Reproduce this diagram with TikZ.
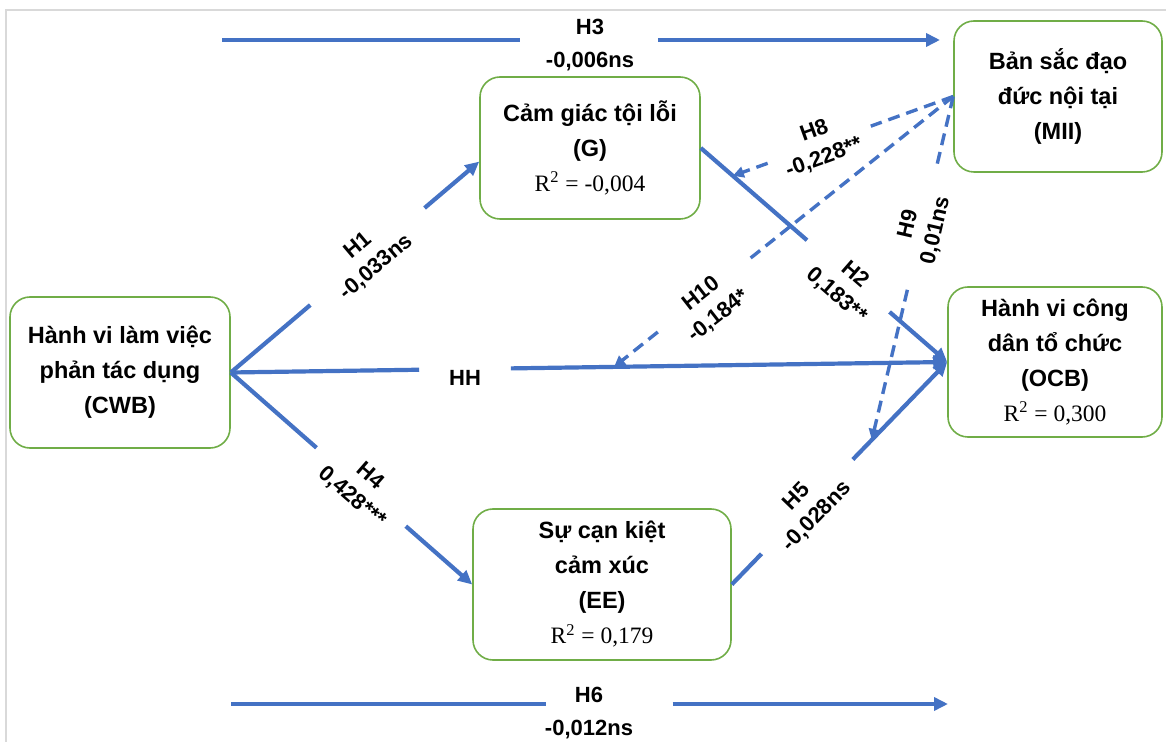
\documentclass[tikz,border=0pt]{standalone}
\usepackage{fontspec}
\setmainfont{Liberation Sans}
\newfontfamily\timesfont{Liberation Serif}
\usepackage{tikz}
\usetikzlibrary{arrows.meta,calc,positioning}
\definecolor{pathblue}{HTML}{4472C4}
\definecolor{boxgreen}{HTML}{70AD47}
\definecolor{framegray}{HTML}{D9D9D9}
\tikzset{%
	construct/.style = {draw=boxgreen, line width=0.8pt, rounded corners=10pt, align=center, inner sep=0pt, font=\bfseries\fontsize{11.75}{17.5}\selectfont},
	link/.style      = {pathblue, line width=2.1pt},
	linkarrow/.style = {link, -{Triangle[length=7pt,width=6.5pt]}},
	moderline/.style = {pathblue, line width=1.7pt, dash pattern=on 6pt off 3.5pt},
	moderarrow/.style= {moderline, -{Triangle[length=5.5pt,width=5.5pt]}},
	coef/.style      = {align=center, inner sep=0pt, font=\bfseries\fontsize{11}{14}\selectfont},
	coefwide/.style  = {coef, font=\bfseries\fontsize{11}{16.5}\selectfont},
}
\newcommand{\rsq}[1]{{\timesfont\mdseries R\textsuperscript{2} = #1}}

\begin{document}
\begin{tikzpicture}[x=0.5pt,y=-0.5pt]
	\useasboundingbox (0,0) rectangle (1166,742);
	\draw[framegray, line width=0.6pt] (6,742) -- (6,10) -- (1166,10);

	% constructs
	\node[construct, minimum width=110pt, minimum height=75.5pt] (CWB) at (120,372.5) {Hành vi làm việc\\phản tác dụng\\(CWB)};
	\node[construct, minimum width=110pt, minimum height=71pt] (G) at (590,148) {Cảm giác tội lỗi\\(G)\\\rsq{-0,004}};
	\node[construct, minimum width=104pt, minimum height=75.5pt] (MII) at (1058,96.5) {Bản sắc đạo\\đức nội tại\\(MII)};
	\node[construct, minimum width=107pt, minimum height=75pt] (OCB) at (1055,362) {Hành vi công\\dân tổ chức\\(OCB)\\\rsq{0,300}};
	\node[construct, minimum width=129pt, minimum height=75.5pt] (EE) at (602,584.5) {Sự cạn kiệt\\cảm xúc\\(EE)\\\rsq{0,179}};

	% direct paths
	\draw[link] (CWB.east) -- ($(CWB.east)!.32!(G.187)$);
	\draw[linkarrow] ($(CWB.east)!.78!(G.187)$) -- (G.187);
	\node[coef, rotate=40] (h1) at ($(CWB.east)!.55!(G.187)$) {H1\\-0,033ns};

	\draw[link] (CWB.east) -- ($(CWB.east)!.355!(EE.west)$);
	\draw[linkarrow] ($(CWB.east)!.725!(EE.west)$) -- (EE.west);
	\node[coef, rotate=-41] (h4) at ($(CWB.east)!.54!(EE.west)$) {H4\\0,428***};

	\draw[link] (CWB.east) -- ($(CWB.east)!.263!(OCB.west)$);
	\draw[linkarrow] ($(CWB.east)!.391!(OCB.west)$) -- (OCB.west);
	\node[coef] (hh) at ($(CWB.east)!.327!(OCB.west)+(0,9)$) {HH};

	\draw[link] (G.east) -- ($(G.east)!.431!(OCB.west)$);
	\draw[linkarrow] ($(G.east)!.766!(OCB.west)$) -- (OCB.west);
	\node[coef, rotate=-41] (h2) at ($(G.east)!.6!(OCB.west)+(-3,9)$) {H2\\0,183**};

	\draw[link] (EE.east) -- ($(EE.east)!.138!(OCB.west)$);
	\draw[linkarrow] ($(EE.east)!.562!(OCB.west)$) -- (OCB.west);
	\node[coef, rotate=46] (h5) at ($(EE.east)!.35!(OCB.west)$) {H5\\-0,028ns};

	% top and bottom paths
	\coordinate (h3s) at (222,40);
	\coordinate (h3e) at (940,40);
	\draw[link] (h3s) -- ($(h3s)!.415!(h3e)$);
	\draw[linkarrow] ($(h3s)!.607!(h3e)$) -- (h3e);
	\node[coefwide] (h3) at (590,45) {H3\\-0,006ns};

	\coordinate (h6s) at (231,704);
	\coordinate (h6e) at (948,704);
	\draw[link] (h6s) -- ($(h6s)!.439!(h6e)$);
	\draw[linkarrow] ($(h6s)!.616!(h6e)$) -- (h6e);
	\node[coefwide] (h6) at (589,713) {H6\\-0,012ns};

	% moderation by MII
	\coordinate (m8) at ($(G.east)!.13!(OCB.west)$);
	\coordinate (m9) at ($(EE.east)!.65!(OCB.west)$);
	\coordinate (m10) at ($(CWB.east)!.535!(OCB.west)$);

	\draw[moderline] (MII.west) -- ($(MII.west)!.374!(m8)$);
	\draw[moderarrow] ($(MII.west)!.842!(m8)$) -- (m8);
	\node[coef, rotate=20] (h8) at ($(MII.west)!.608!(m8)$) {H8\\-0,228**};

	\draw[moderline] (MII.west) -- ($(MII.west)!.606!(m10)$);
	\draw[moderarrow] ($(MII.west)!.871!(m10)$) -- (m10);
	\node[coef, rotate=38] (h10) at ($(MII.west)!.738!(m10)+(7,9)$) {H10\\-0,184*};

	\draw[moderline] (MII.west) -- ($(MII.west)!.199!(m9)$);
	\draw[moderarrow] ($(MII.west)!.563!(m9)$) -- (m9);
	\node[coef, rotate=77] (h9) at ($(MII.west)!.381!(m9)$) {H9\\0,01ns};
\end{tikzpicture}
\end{document}
